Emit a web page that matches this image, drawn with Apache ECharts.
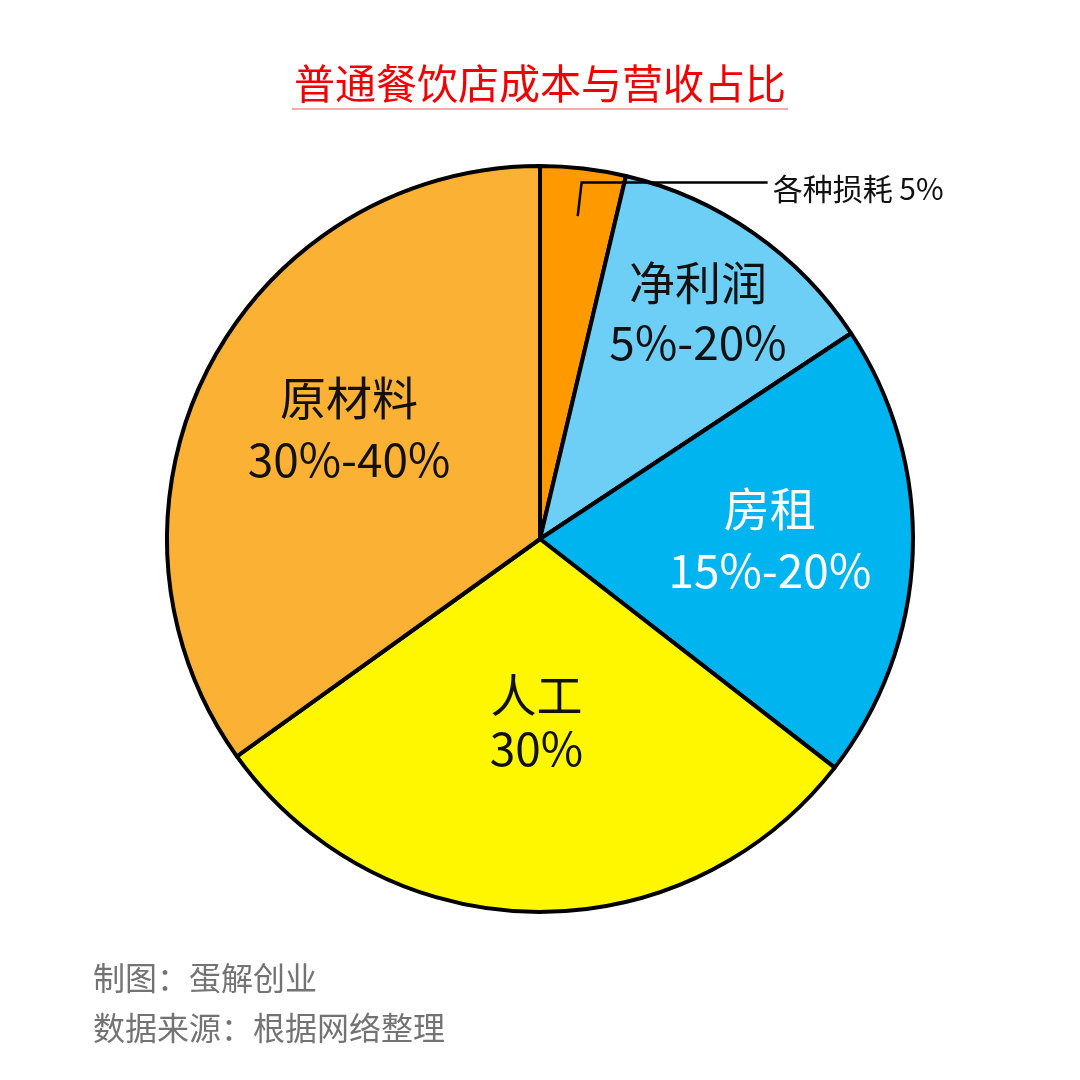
<!DOCTYPE html>
<html><head><meta charset="utf-8">
<script src="https://cdn.jsdelivr.net/npm/echarts@6/dist/echarts.min.js"></script>
<style>html,body{margin:0;background:#fff}#c{width:1080px;height:1080px}</style>
</head><body><div id="c"></div>
<script>
// ---- data ----
const categories = ['各种损耗', '净利润', '房租', '人工', '原材料'];
const shares = [3.7, 12.0, 19.8, 29.6, 34.9];
const rangeLabels = ['5%', '5%-20%', '15%-20%', '30%', '30%-40%'];
const titleText = '普通餐饮店成本与营收占比';
const footerLines = ['制图：蛋解创业', '数据来源：根据网络整理'];

// ---- style ----
const palette = ['#FF9900', '#6DCFF6', '#00B4F0', '#FFF700', '#FBB234'];
const FONT = '"Noto Sans CJK SC", "Noto Sans", sans-serif';
const C = [540, 539];
const R = 373;

function inLabel(color, lineH, gapBottom, padLeft) {
  return {
    show: true, position: 'inside', color: color, fontFamily: FONT, fontSize: 46,
    padding: [0, 0, 0, padLeft || 0],
    formatter: p => '{n|' + p.name + '}\n{v|' + rangeLabels[p.dataIndex] + '}' + (gapBottom ? '\n{g|}' : ''),
    rich: {
      n: { fontFamily: FONT, fontSize: 46, lineHeight: lineH, color: color },
      v: { fontFamily: FONT, fontSize: 46, lineHeight: lineH, color: color },
      g: { height: gapBottom || 1, lineHeight: gapBottom || 1 }
    }
  };
}

function overlay(radius, shown) {
  return {
    type: 'pie', center: C, radius: radius, startAngle: 90, clockwise: true, z: 5,
    silent: true, avoidLabelOverlap: false, emphasis: { disabled: true },
    itemStyle: { color: 'rgba(0,0,0,0)', borderWidth: 0 },
    labelLine: { show: false },
    label: { show: false },
    data: categories.map((name, i) => ({
      name, value: shares[i],
      label: shown[i] || { show: false }
    }))
  };
}

const chart = echarts.init(document.getElementById('c'), null, { renderer: 'canvas' });
chart.setOption({
  backgroundColor: '#fff',
  animation: false,
  title: [
    {
      left: 'center', top: 53,
      text: '{t|' + titleText + '}\n{u|}',
      textStyle: {
        rich: {
          t: { fontFamily: FONT, fontSize: 41, fontWeight: 'normal', lineHeight: 50, color: '#F00000', align: 'center' },
          u: { height: 1, lineHeight: 2, width: 496, backgroundColor: '#F25A5A', align: 'center' }
        }
      }
    },
    {
      left: 88, top: 948,
      text: footerLines.join('\n'),
      textStyle: { fontFamily: FONT, fontSize: 32, lineHeight: 50, color: '#737373', fontWeight: 'normal' }
    }
  ],
  series: [
    {
      type: 'pie', center: C, radius: [0, R], startAngle: 90, clockwise: true, z: 1,
      silent: true, avoidLabelOverlap: false, emphasis: { disabled: true },
      itemStyle: { borderColor: '#000', borderWidth: 4 },
      labelLine: { show: false },
      label: { show: false },
      data: categories.map((name, i) => ({
        name, value: shares[i], itemStyle: { color: palette[i] },
        label: i === 3 ? inLabel('#111', 54, 14, 0) : { show: false }
      }))
    },
    overlay([214, 234], { 4: inLabel('#111', 62, 14, 22), 2: inLabel('#FFFFFF', 62, 16, 6) }),
    overlay([263, 283], { 1: inLabel('#111', 60, 0, 0) }),
    {
      type: 'pie', center: C, radius: [0, 325], startAngle: 90, clockwise: true, z: 6, zlevel: 1,
      silent: true, avoidLabelOverlap: false, emphasis: { disabled: true },
      itemStyle: { color: 'rgba(0,0,0,0)', borderWidth: 0 },
      label: {
        position: 'outside', fontFamily: FONT, fontSize: 30, color: '#111',
        distanceToLabelLine: 5,
        formatter: p => '{g|}\n{n|' + p.name + ' ' + rangeLabels[p.dataIndex] + '}',
        rich: {
          g: { height: 12, lineHeight: 12 },
          n: { fontFamily: FONT, fontSize: 30, lineHeight: 36, color: '#111' }
        }
      },
      labelLine: { show: true, showAbove: true, length: 34, length2: 186, smooth: false,
        minTurnAngle: 0, maxSurfaceAngle: 180,
        lineStyle: { color: '#000000', width: 2.5, opacity: 1 } },
      data: categories.map((name, i) => ({
        name, value: shares[i],
        label: { show: i === 0 },
        labelLine: { show: i === 0 }
      }))
    }
  ]
});
</script>
</body></html>
